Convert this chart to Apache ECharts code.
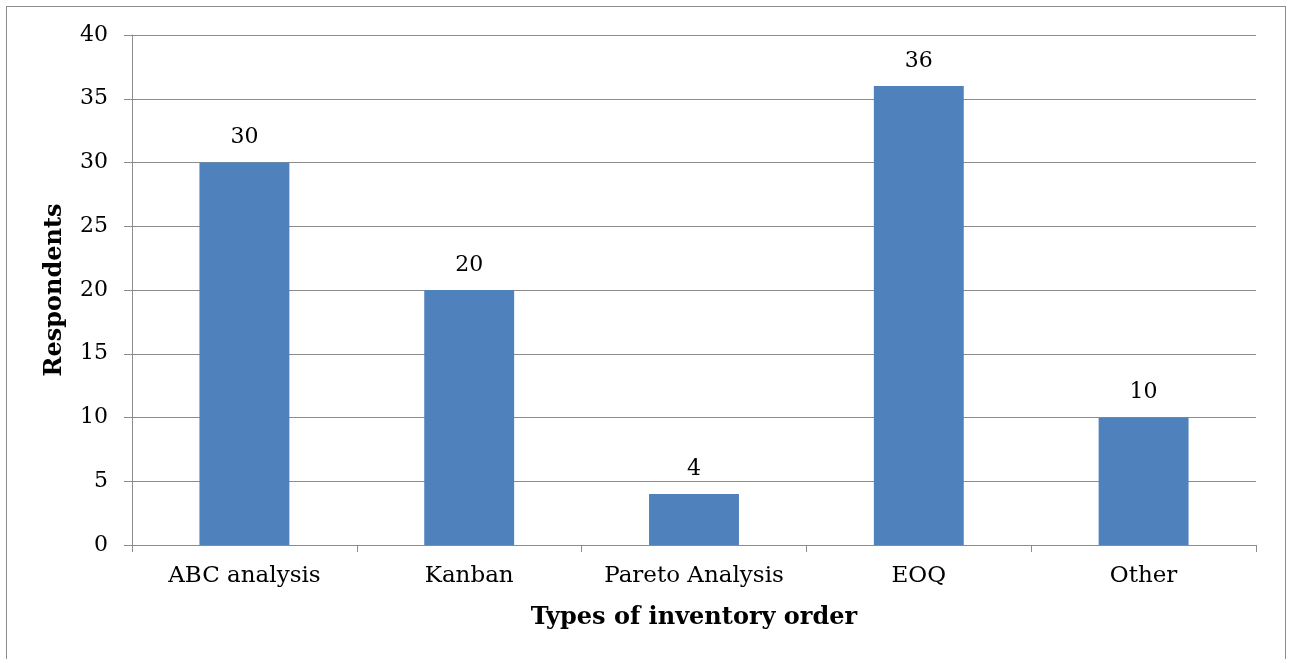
<!DOCTYPE html>
<html>
<head>
<meta charset="utf-8">
<script src="https://cdn.jsdelivr.net/npm/echarts@6/dist/echarts.min.js"></script>
<style>
  html, body { margin: 0; padding: 0; background: #fff; }
  #frame { position: absolute; left: 6px; top: 6px; width: 1280px; height: 700px; border: 1px solid #8c8c8c; box-sizing: border-box; }
  #chart { position: absolute; left: 0; top: 0; width: 1291px; height: 659px; }
</style>
</head>
<body>
<div id="frame"></div>
<div id="chart"></div>
<script>
// Inventory ordering methods reported by survey respondents
const categories = ['ABC analysis', 'Kanban', 'Pareto Analysis', 'EOQ', 'Other'];
const respondents = [30, 20, 4, 36, 10];
const yTicks = { min: 0, max: 40, interval: 5 };

const serif = '"DejaVu Serif", "Liberation Serif", serif';
const gridColor = '#8c8c8c';

const chart = echarts.init(document.getElementById('chart'), null, { renderer: 'canvas' });
chart.setOption({
  animation: false,
  backgroundColor: 'transparent',
  grid: { left: 132, right: 35, top: 35, bottom: 114, containLabel: false },
  xAxis: {
    type: 'category',
    data: categories,
    name: 'Types of inventory order',
    nameLocation: 'middle',
    nameGap: 61,
    nameTextStyle: { fontFamily: serif, fontSize: 24, fontWeight: 'bold', color: '#000' },
    axisLine: { lineStyle: { color: gridColor, width: 1 } },
    axisTick: { show: true, interval: 0, alignWithLabel: false, length: 7, lineStyle: { color: gridColor } },
    axisLabel: { interval: 0, hideOverlap: false, fontFamily: serif, fontSize: 23, color: '#000', margin: 20 }
  },
  yAxis: {
    type: 'value',
    min: yTicks.min,
    max: yTicks.max,
    interval: yTicks.interval,
    name: 'Respondents',
    nameLocation: 'middle',
    nameGap: 65,
    nameRotate: 90,
    nameTextStyle: { fontFamily: serif, fontSize: 24, fontWeight: 'bold', color: '#000' },
    axisLine: { show: true, lineStyle: { color: gridColor, width: 1 } },
    axisTick: { show: true, length: 8, lineStyle: { color: gridColor } },
    axisLabel: { fontFamily: serif, fontSize: 22, color: '#000', margin: 24 },
    splitLine: { show: true, lineStyle: { color: gridColor, width: 1 } }
  },
  series: [{
    type: 'bar',
    data: respondents,
    barCategoryGap: '60%',
    itemStyle: { color: '#4f81bd' },
    label: {
      show: true,
      position: 'top',
      distance: 14,
      fontFamily: serif,
      fontSize: 22,
      color: '#000'
    }
  }]
});
</script>
</body>
</html>
